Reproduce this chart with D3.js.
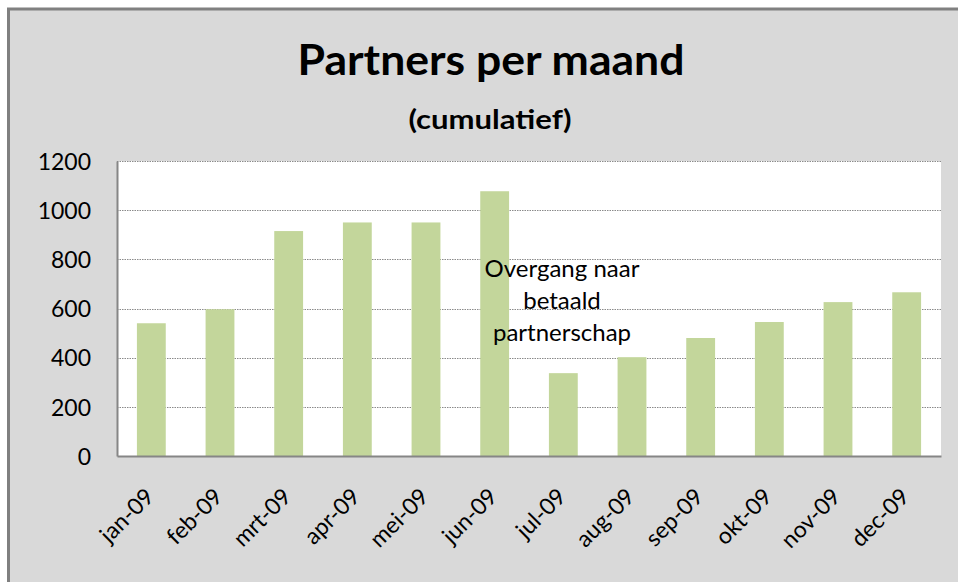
<!DOCTYPE html>
<html>
<head>
<meta charset="utf-8">
<script src="https://cdnjs.cloudflare.com/ajax/libs/d3/7.8.5/d3.min.js"></script>
<style>
  body { margin: 0; background: #fff; }
  text { font-family: Lato, "Open Sans", sans-serif; fill: #000; }
</style>
</head>
<body>
<div id="chart"></div>
<script>
// Data
const months = ["jan-09", "feb-09", "mrt-09", "apr-09", "mei-09", "jun-09",
                "jul-09", "aug-09", "sep-09", "okt-09", "nov-09", "dec-09"];
const partners = [540, 597, 915, 950, 950, 1077, 337, 402, 480, 545, 626, 666];
const yTicks = [0, 200, 400, 600, 800, 1000, 1200];
const noteLines = ["Overgang naar", "betaald", "partnerschap"];

const W = 958, H = 582;
const plot = { left: 117, right: 941, top: 161, bottom: 456 };

const svg = d3.select("#chart")
    .append("svg")
    .attr("width", W)
    .attr("height", H);

// Chart area background with border
svg.append("rect")
    .attr("x", 8.5).attr("y", 9)
    .attr("width", W + 10).attr("height", H + 10)
    .attr("fill", "#d9d9d9")
    .attr("stroke", "#808080")
    .attr("stroke-width", 3);

// Plot area
svg.append("rect")
    .attr("x", plot.left).attr("y", plot.top)
    .attr("width", plot.right - plot.left)
    .attr("height", plot.bottom - plot.top)
    .attr("fill", "#fff");

// Scales
const x = d3.scaleBand()
    .domain(months)
    .range([plot.left, plot.right])
    .paddingInner(0.58)
    .paddingOuter(0.29);

const y = d3.scaleLinear()
    .domain([0, 1200])
    .range([plot.bottom, plot.top]);

// Gridlines (dotted)
svg.append("g")
    .selectAll("line")
    .data(yTicks.filter(d => d > 0))
    .enter()
    .append("line")
    .attr("x1", plot.left).attr("x2", plot.right)
    .attr("y1", d => Math.round(y(d)) + 0.5)
    .attr("y2", d => Math.round(y(d)) + 0.5)
    .attr("stroke", "#8a8a8a")
    .attr("stroke-width", 1)
    .attr("stroke-dasharray", "1.5,1");

// Bars
svg.selectAll(".bar")
    .data(months)
    .enter()
    .append("rect")
    .attr("class", "bar")
    .attr("x", d => x(d))
    .attr("y", (d, i) => y(partners[i]))
    .attr("width", x.bandwidth())
    .attr("height", (d, i) => plot.bottom - y(partners[i]))
    .attr("fill", "#c3d69b");

// Y axis
const yAxis = svg.append("g")
    .attr("transform", `translate(${plot.left},0)`)
    .call(d3.axisLeft(y).tickValues(yTicks).tickFormat(d3.format("d"))
        .tickSize(0).tickPadding(26));
yAxis.select(".domain").attr("stroke", "#868686").attr("stroke-width", 2);
yAxis.selectAll("text")
    .style("font-family", "Lato, sans-serif")
    .style("font-size", "23px")
    .attr("dy", "0.36em");

// X axis
const xAxis = svg.append("g")
    .attr("transform", `translate(0,${plot.bottom})`)
    .call(d3.axisBottom(x).tickSize(0).tickPadding(0));
xAxis.select(".domain").attr("stroke", "#868686").attr("stroke-width", 2);
xAxis.selectAll("text")
    .style("font-family", "Lato, sans-serif")
    .style("font-size", "23px")
    .style("text-anchor", "end")
    .attr("dy", 0)
    .attr("y", 0)
    .attr("transform", "translate(4,42) rotate(-45)");

// Title
svg.append("text")
    .attr("x", 491).attr("y", 75)
    .attr("text-anchor", "middle")
    .style("font-size", "42px")
    .style("font-weight", "bold")
    .attr("textLength", 387)
    .attr("lengthAdjust", "spacingAndGlyphs")
    .text("Partners per maand");

svg.append("text")
    .attr("x", 490).attr("y", 129)
    .attr("text-anchor", "middle")
    .style("font-size", "27px")
    .style("font-weight", "bold")
    .attr("textLength", 163)
    .attr("lengthAdjust", "spacingAndGlyphs")
    .text("(cumulatief)");

// Annotation
svg.append("text")
    .attr("text-anchor", "middle")
    .style("font-size", "24px")
    .selectAll("tspan")
    .data(noteLines)
    .enter()
    .append("tspan")
    .attr("x", 562)
    .attr("y", (d, i) => 277 + i * 32)
    .text(d => d);
</script>
</body>
</html>
